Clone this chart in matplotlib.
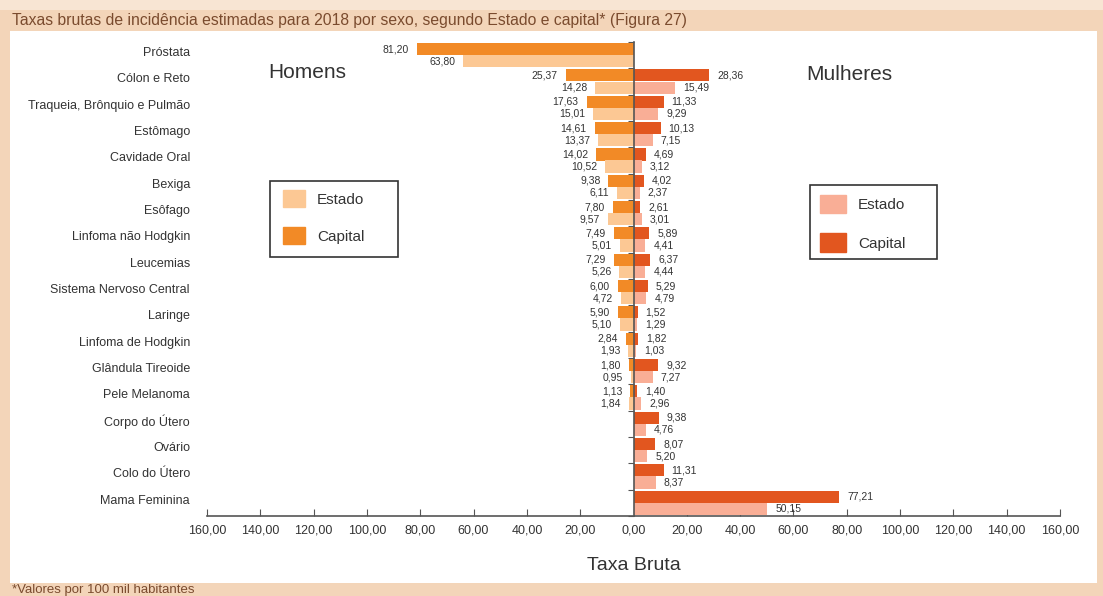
import numpy as np
import matplotlib.pyplot as plt
from matplotlib import font_manager
from matplotlib.patches import Patch, Rectangle

nan = np.nan

categories = [
    "Próstata", "Cólon e Reto", "Traqueia, Brônquio e Pulmão", "Estômago",
    "Cavidade Oral", "Bexiga", "Esôfago", "Linfoma não Hodgkin", "Leucemias",
    "Sistema Nervoso Central", "Laringe", "Linfoma de Hodgkin",
    "Glândula Tireoide", "Pele Melanoma", "Corpo do Útero", "Ovário",
    "Colo do Útero", "Mama Feminina",
]
homens_capital = [81.20, 25.37, 17.63, 14.61, 14.02, 9.38, 7.80, 7.49, 7.29,
                  6.00, 5.90, 2.84, 1.80, 1.13, nan, nan, nan, nan]
homens_estado = [63.80, 14.28, 15.01, 13.37, 10.52, 6.11, 9.57, 5.01, 5.26,
                 4.72, 5.10, 1.93, 0.95, 1.84, nan, nan, nan, nan]
mulheres_capital = [nan, 28.36, 11.33, 10.13, 4.69, 4.02, 2.61, 5.89, 6.37,
                    5.29, 1.52, 1.82, 9.32, 1.40, 9.38, 8.07, 11.31, 77.21]
mulheres_estado = [nan, 15.49, 9.29, 7.15, 3.12, 2.37, 3.01, 4.41, 4.44,
                   4.79, 1.29, 1.03, 7.27, 2.96, 4.76, 5.20, 8.37, 50.15]
x_ticks = list(range(-160, 161, 20))

title = ("Taxas brutas de incidência estimadas para 2018 por sexo, "
         "segundo Estado e capital* (Figura 27)")
footer = "*Valores por 100 mil habitantes"

# colours
HOMEM_CAP = "#F28A26"
HOMEM_EST = "#FCC894"
MULHER_CAP = "#E2561F"
MULHER_EST = "#F9AE96"
FRAME = "#F3D5B9"
BROWN = "#7A4B2E"
TEXT = "#333333"

installed = {f.name for f in font_manager.fontManager.ttflist}
narrow = "Liberation Sans Narrow" if "Liberation Sans Narrow" in installed else "Liberation Sans"
plt.rcParams["font.family"] = ["Liberation Sans", "DejaVu Sans"]

W, H = 1103, 596


def px_box(x0, y0, x1, y1):
    return [x0 / W, 1 - y1 / H, (x1 - x0) / W, (y1 - y0) / H]


def px_rect(x0, y0, x1, y1, **kw):
    return Rectangle((x0 / W, 1 - y1 / H), (x1 - x0) / W, (y1 - y0) / H,
                     transform=fig.transFigure, **kw)


fig = plt.figure(figsize=(W / 100, H / 100), dpi=100, facecolor=FRAME)
fig.patches.append(px_rect(0, 0, W, 10, facecolor="#F8E5D3", edgecolor="none", zorder=-10))
fig.patches.append(px_rect(10, 31, 1097, 583, facecolor="white", edgecolor="none", zorder=-10))

ax = fig.add_axes(px_box(207, 42, 1060, 516))
ax.set_facecolor("none")
ax.set_zorder(2)

y = np.arange(len(categories))
h = 0.46
hc = np.array(homens_capital)
he = np.array(homens_estado)
mc = np.array(mulheres_capital)
me = np.array(mulheres_estado)

ax.barh(y - h / 2, -hc, height=h, color=HOMEM_CAP, zorder=2)
ax.barh(y + h / 2, -he, height=h, color=HOMEM_EST, zorder=2)
ax.barh(y - h / 2, mc, height=h, color=MULHER_CAP, zorder=2)
ax.barh(y + h / 2, me, height=h, color=MULHER_EST, zorder=2)


def fmt(v):
    return f"{v:.2f}".replace(".", ",")


for vals, off, side in [(hc, -h / 2, -1), (he, h / 2, -1), (mc, -h / 2, 1), (me, h / 2, 1)]:
    for i, v in enumerate(vals):
        if np.isnan(v):
            continue
        ax.annotate(fmt(v), xy=(side * v, i + off), xytext=(side * 8, 0),
                    textcoords="offset pixels", ha="left" if side > 0 else "right",
                    va="center", fontsize=7.5, color=TEXT, family=narrow)

for i, name in enumerate(categories):
    ax.annotate(name, xy=(0, i), xycoords=ax.get_yaxis_transform(), xytext=(-17, 2),
                textcoords="offset pixels", ha="right", va="center", fontsize=9,
                color=TEXT)

ax.set_xlim(-160, 160)
ax.set_ylim(len(categories) - 0.5, -0.5)

ax.spines["left"].set_position(("data", 0))
ax.spines[["top", "right"]].set_visible(False)
for s in ("left", "bottom"):
    ax.spines[s].set_color("#555555")
    ax.spines[s].set_linewidth(1.2)
    ax.spines[s].set_zorder(3)

ax.set_yticks(np.arange(-0.5, len(categories), 1))
ax.set_yticklabels([])
ax.tick_params(axis="y", direction="out", length=4, color="#555555")

ax.set_xticks(x_ticks)
ax.set_xticklabels([fmt(abs(v)) for v in x_ticks], fontsize=9, color=TEXT)
ax.tick_params(axis="x", direction="in", length=5, color="#555555", pad=6)

fig.text(634 / W, 1 - 565 / H, "Taxa Bruta", fontsize=14, ha="center", va="center",
         color=TEXT, family=narrow)
fig.text(307 / W, 1 - 72 / H, "Homens", fontsize=15, ha="center", va="center",
         color=TEXT)
fig.text(849 / W, 1 - 74 / H, "Mulheres", fontsize=15, ha="center", va="center",
         color=TEXT)

# legends: entries via ax.legend, boxes drawn separately (wide right margin)
leg_kw = dict(loc="upper left", bbox_transform=fig.transFigure, frameon=False,
              borderaxespad=0, borderpad=0, fontsize=11, handletextpad=0.8,
              labelcolor=TEXT)
leg1 = ax.legend(handles=[Patch(color=HOMEM_EST), Patch(color=HOMEM_CAP)],
                 labels=["Estado", "Capital"], bbox_to_anchor=(283 / W, 1 - 190 / H),
                 handlelength=1.44, handleheight=1.33, labelspacing=1.34, **leg_kw)
ax.add_artist(leg1)
ax.legend(handles=[Patch(color=MULHER_EST), Patch(color=MULHER_CAP)],
          labels=["Estado", "Capital"], bbox_to_anchor=(820 / W, 1 - 195 / H),
          handlelength=1.7, handleheight=1.45, labelspacing=1.33, **leg_kw)
fig.patches.append(px_rect(270, 181, 398, 257, facecolor="none", edgecolor="#333333",
                           linewidth=1.2, zorder=5))
fig.patches.append(px_rect(810, 185, 937, 259, facecolor="none", edgecolor="#333333",
                           linewidth=1.2, zorder=5))

fig.text(12 / W, 1 - 20 / H, title, fontsize=11.3, color=BROWN, va="center")
fig.text(12 / W, 1 - 590 / H, footer, fontsize=9.5, color=BROWN, va="center")

fig.savefig("out.png", dpi=100, facecolor=FRAME)
